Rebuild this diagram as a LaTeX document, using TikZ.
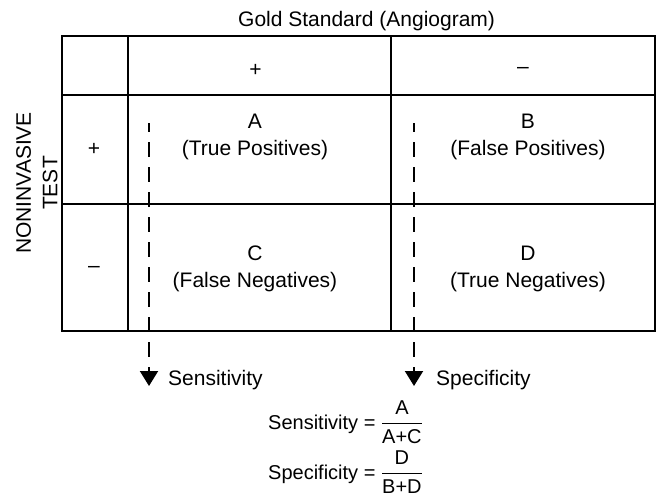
\documentclass[tikz,border=0pt]{standalone}
\usepackage{amsmath}
\usepackage{fontspec}
\setmainfont{Liberation Sans}
\usetikzlibrary{
    arrows.meta,
    positioning,
}
\tikzstyle{tableline}=[line width=1.2pt]
\tikzstyle{txt}=[font=\fontsize{21}{26.5}\selectfont,inner sep=0pt,align=center]
\tikzstyle{formula}=[font=\fontsize{20}{24}\selectfont,inner sep=0pt,anchor=base west]
\tikzstyle{readout}=[line width=2pt,dash pattern=on 15pt off 10pt,dash phase=6pt,-{Triangle[width=18pt,length=15pt]}]
\tikzset{
    >=latex
}

\begin{document}
\begin{tikzpicture}[x=1pt,y=-1pt]
    \useasboundingbox (0,0) rectangle (657,499);

    % Table
    \coordinate (tab nw) at (62,36);
    \coordinate (tab se) at (655,331);
    \draw[tableline] (tab nw) rectangle (tab se);
    \foreach \x in {128,391}
        \draw[tableline] (\x,36) -- (\x,331);
    \foreach \y in {95,204}
        \draw[tableline] (62,\y) -- (655,\y);

    % Headings
    \node[txt,anchor=base west] (gold) at (238,26.5) {Gold Standard (Angiogram)};
    \node[txt,anchor=base] (col pos) at (255.5,76) {+};
    \node[txt,anchor=base] (col neg) at (523,73) {--};
    \node[txt,anchor=base] (row pos) at (94,155.5) {+};
    \node[txt,anchor=base] (row neg) at (94,272.5) {--};
    \node[txt,rotate=90] (test) at (37,183) {NONINVASIVE\\TEST};

    % Cells
    \node[txt,anchor=base] (A) at (255,155) {A\\(True Positives)};
    \node[txt,anchor=base] (B) at (528,155) {B\\(False Positives)};
    \node[txt,anchor=base] (C) at (255,287) {C\\(False Negatives)};
    \node[txt,anchor=base] (D) at (528,287) {D\\(True Negatives)};

    % Read-out arrows
    \coordinate (sens top) at (149,123);
    \coordinate (sens tip) at (149,386);
    \draw[readout] (sens top) -- (sens tip);
    \node[txt,anchor=base west] (sens) at (168,385) {Sensitivity};
    \coordinate (spec top) at (414,123);
    \coordinate (spec tip) at (414,386);
    \draw[readout] (spec top) -- (spec tip);
    \node[txt,anchor=base west] (spec) at (436,385) {Specificity};

    % Formulas
    \node[formula] (sens eq) at (268,429) {Sensitivity = $\dfrac{\text{A}}{\text{A+C}}$};
    \node[formula] (spec eq) at (268,479) {Specificity = $\dfrac{\text{D}}{\text{B+D}}$};
\end{tikzpicture}
\end{document}
